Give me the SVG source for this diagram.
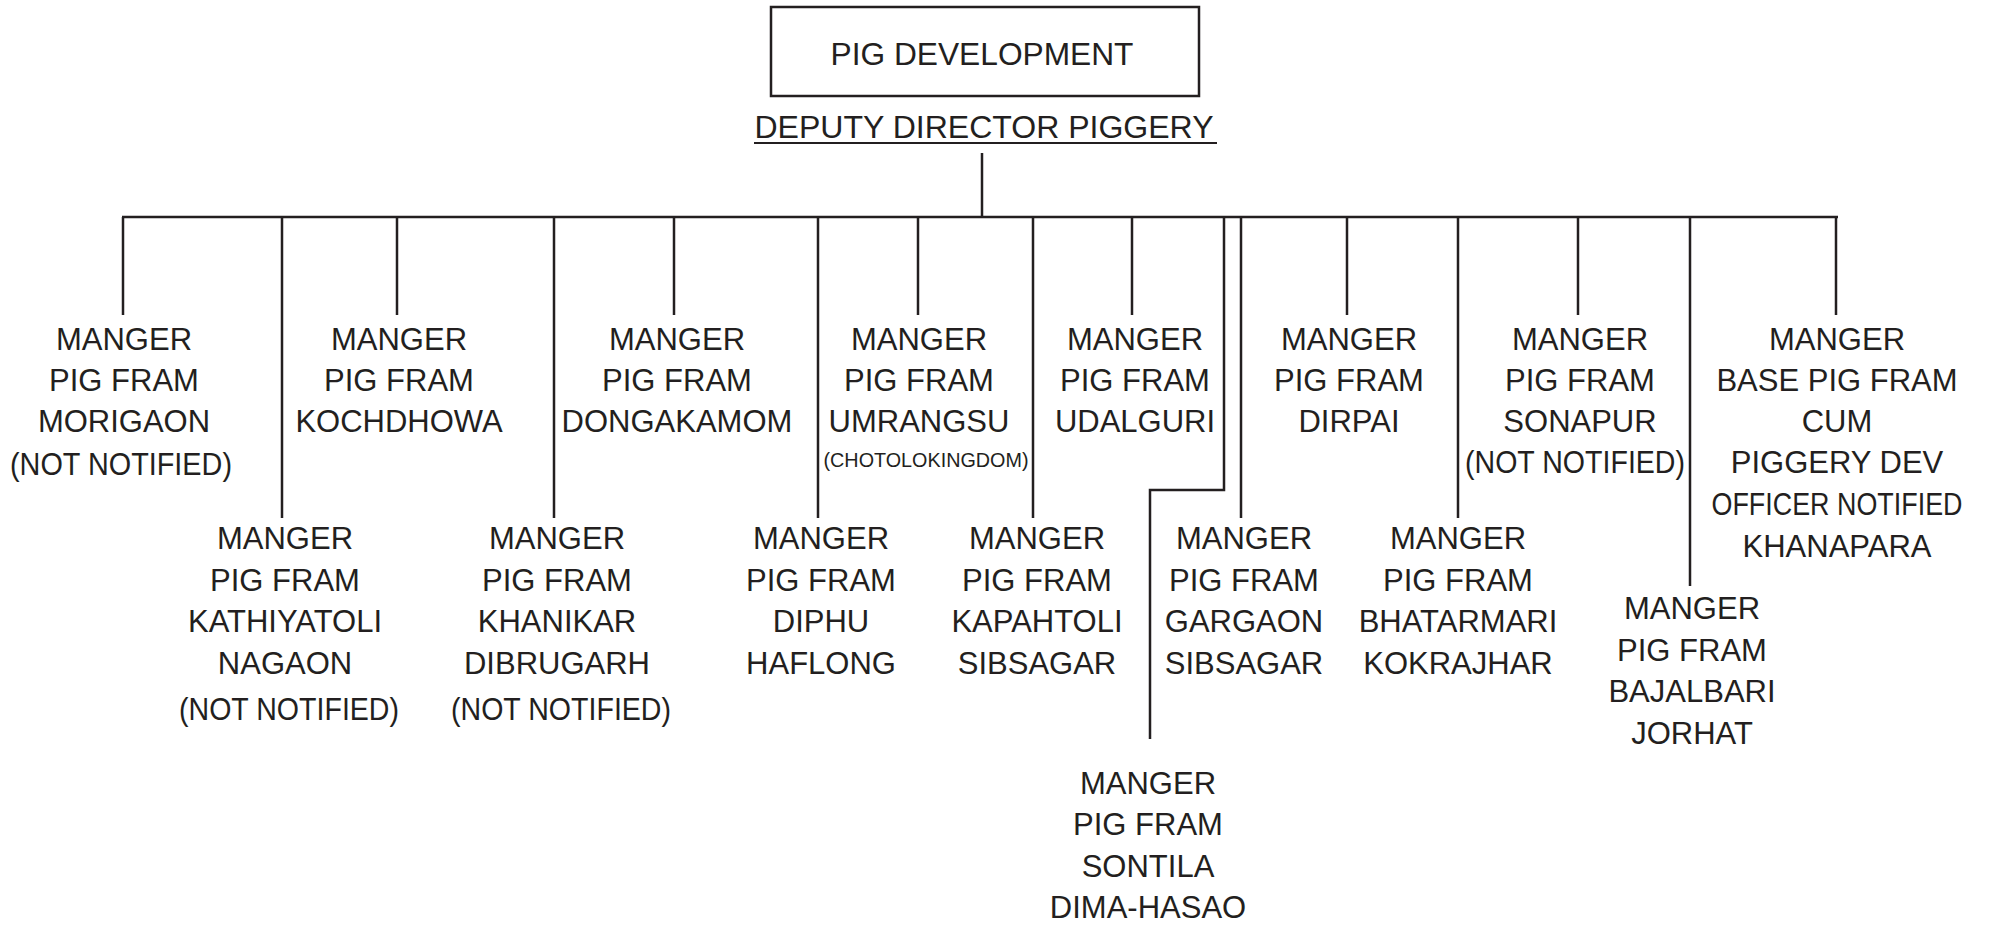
<svg xmlns="http://www.w3.org/2000/svg" width="1991" height="925" viewBox="0 0 1991 925">
<style>
text{font-family:"Liberation Sans",Arial,sans-serif;font-size:31px;fill:#231f20;text-anchor:middle}
.sm{font-size:20px}
.ln{stroke:#231f20;stroke-width:2.5;fill:none}
</style>
<rect width="1991" height="925" fill="#fff"/>
<g id="connectors">
<line class="ln" x1="982" y1="153" x2="982" y2="217"/>
<line class="ln" x1="122" y1="217" x2="1838" y2="217"/>
<line class="ln" x1="123" y1="217" x2="123" y2="315"/>
<line class="ln" x1="397" y1="217" x2="397" y2="315"/>
<line class="ln" x1="674" y1="217" x2="674" y2="315"/>
<line class="ln" x1="918" y1="217" x2="918" y2="315"/>
<line class="ln" x1="1132" y1="217" x2="1132" y2="315"/>
<line class="ln" x1="1347" y1="217" x2="1347" y2="315"/>
<line class="ln" x1="1578" y1="217" x2="1578" y2="315"/>
<line class="ln" x1="1836" y1="217" x2="1836" y2="315"/>
<line class="ln" x1="282" y1="217" x2="282" y2="518"/>
<line class="ln" x1="554" y1="217" x2="554" y2="518"/>
<line class="ln" x1="818" y1="217" x2="818" y2="518"/>
<line class="ln" x1="1033" y1="217" x2="1033" y2="518"/>
<line class="ln" x1="1241" y1="217" x2="1241" y2="518"/>
<line class="ln" x1="1458" y1="217" x2="1458" y2="518"/>
<line class="ln" x1="1690" y1="217" x2="1690" y2="586"/>
<polyline class="ln" points="1224,217 1224,490 1150,490 1150,739"/>
</g>
<g id="pig-development">
<rect x="771" y="7" width="428" height="89" fill="none" stroke="#231f20" stroke-width="2.5"/>
<text x="982" y="65" textLength="303" lengthAdjust="spacingAndGlyphs">PIG DEVELOPMENT</text>
</g>
<g id="deputy-director">
<text x="984" y="138" font-size="32" textLength="459" lengthAdjust="spacingAndGlyphs">DEPUTY DIRECTOR PIGGERY</text>
<line x1="754" y1="143" x2="1217" y2="143" stroke="#231f20" stroke-width="2"/>
</g>
<g id="morigaon">
<text x="124" y="350">MANGER</text><text x="124" y="391">PIG FRAM</text><text x="124" y="432">MORIGAON</text><text x="121" y="475" textLength="222" lengthAdjust="spacingAndGlyphs">(NOT NOTIFIED)</text>
</g>
<g id="kochdhowa">
<text x="399" y="350">MANGER</text><text x="399" y="391">PIG FRAM</text><text x="399" y="432">KOCHDHOWA</text>
</g>
<g id="dongakamom">
<text x="677" y="350">MANGER</text><text x="677" y="391">PIG FRAM</text><text x="677" y="432">DONGAKAMOM</text>
</g>
<g id="umrangsu">
<text x="919" y="350">MANGER</text><text x="919" y="391">PIG FRAM</text><text x="919" y="432">UMRANGSU</text><text class="sm" x="926" y="467" textLength="205" lengthAdjust="spacingAndGlyphs">(CHOTOLOKINGDOM)</text>
</g>
<g id="udalguri">
<text x="1135" y="350">MANGER</text><text x="1135" y="391">PIG FRAM</text><text x="1135" y="432">UDALGURI</text>
</g>
<g id="dirpai">
<text x="1349" y="350">MANGER</text><text x="1349" y="391">PIG FRAM</text><text x="1349" y="432">DIRPAI</text>
</g>
<g id="sonapur">
<text x="1580" y="350">MANGER</text><text x="1580" y="391">PIG FRAM</text><text x="1580" y="432">SONAPUR</text><text x="1575" y="473" textLength="220" lengthAdjust="spacingAndGlyphs">(NOT NOTIFIED)</text>
</g>
<g id="khanapara">
<text x="1837" y="350">MANGER</text><text x="1837" y="391">BASE PIG FRAM</text><text x="1837" y="432">CUM</text><text x="1837" y="473">PIGGERY DEV</text><text x="1837" y="515" textLength="251" lengthAdjust="spacingAndGlyphs">OFFICER NOTIFIED</text><text x="1837" y="557">KHANAPARA</text>
</g>
<g id="kathiyatoli">
<text x="285" y="549">MANGER</text><text x="285" y="591">PIG FRAM</text><text x="285" y="632">KATHIYATOLI</text><text x="285" y="674">NAGAON</text><text x="289" y="720" textLength="220" lengthAdjust="spacingAndGlyphs">(NOT NOTIFIED)</text>
</g>
<g id="khanikar">
<text x="557" y="549">MANGER</text><text x="557" y="591">PIG FRAM</text><text x="557" y="632">KHANIKAR</text><text x="557" y="674">DIBRUGARH</text><text x="561" y="720" textLength="220" lengthAdjust="spacingAndGlyphs">(NOT NOTIFIED)</text>
</g>
<g id="diphu">
<text x="821" y="549">MANGER</text><text x="821" y="591">PIG FRAM</text><text x="821" y="632">DIPHU</text><text x="821" y="674">HAFLONG</text>
</g>
<g id="kapahtoli">
<text x="1037" y="549">MANGER</text><text x="1037" y="591">PIG FRAM</text><text x="1037" y="632">KAPAHTOLI</text><text x="1037" y="674">SIBSAGAR</text>
</g>
<g id="gargaon">
<text x="1244" y="549">MANGER</text><text x="1244" y="591">PIG FRAM</text><text x="1244" y="632">GARGAON</text><text x="1244" y="674">SIBSAGAR</text>
</g>
<g id="bhatarmari">
<text x="1458" y="549">MANGER</text><text x="1458" y="591">PIG FRAM</text><text x="1458" y="632">BHATARMARI</text><text x="1458" y="674">KOKRAJHAR</text>
</g>
<g id="bajalbari">
<text x="1692" y="619">MANGER</text><text x="1692" y="661">PIG FRAM</text><text x="1692" y="702">BAJALBARI</text><text x="1692" y="744">JORHAT</text>
</g>
<g id="sontila">
<text x="1148" y="794">MANGER</text><text x="1148" y="835">PIG FRAM</text><text x="1148" y="877">SONTILA</text><text x="1148" y="918">DIMA-HASAO</text>
</g>
</svg>
